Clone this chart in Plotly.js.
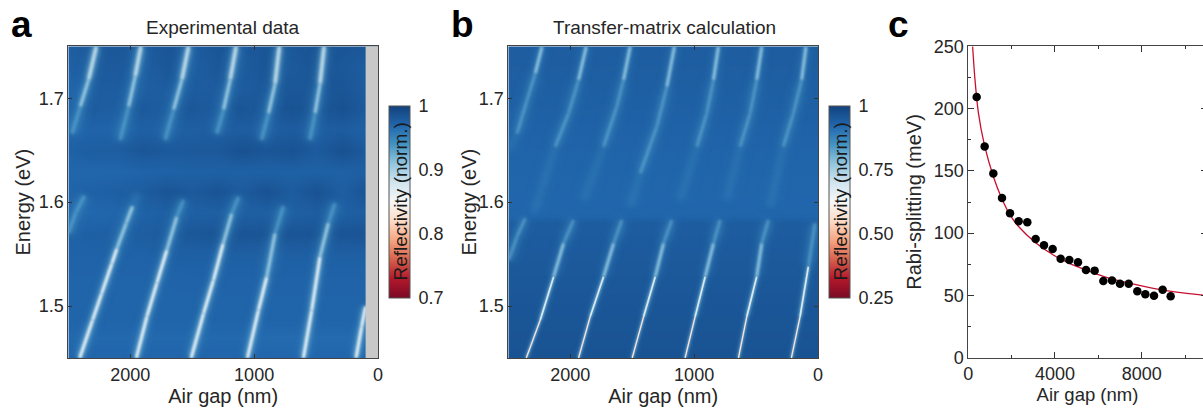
<!DOCTYPE html>
<html><head><meta charset="utf-8">
<script src="https://cdn.plot.ly/plotly-3.0.1.min.js"></script>
<style>html,body{margin:0;padding:0;background:#fff;overflow:hidden;width:1203px;height:408px}#g{width:1215px;height:408px}</style>
</head><body><div id="g"></div>
<script>
// ---------- Panel a: background ----------
const gridGapA = [2500,2300,2100,1900,1700,1500,1300,1100,900,700,500,300,100];
const gridEnergyA = [1.45,1.47,1.49,1.51,1.53,1.55,1.57,1.59,1.61,1.63,1.65,1.67,1.69,1.71,1.73,1.75];
const reflA = [
[.971,.971,.971,.971,.971,.971,.971,.971,.970,.970,.970,.970,.970],
[.968,.968,.968,.968,.968,.968,.968,.968,.967,.967,.967,.967,.967],
[.972,.972,.972,.972,.972,.972,.972,.972,.972,.972,.972,.972,.972],
[.972,.972,.972,.972,.972,.972,.972,.972,.972,.972,.972,.972,.972],
[.972,.972,.972,.972,.972,.973,.973,.973,.973,.973,.973,.973,.973],
[.973,.973,.973,.973,.975,.975,.975,.975,.975,.975,.975,.975,.975],
[.973,.975,.975,.977,.979,.982,.984,.984,.984,.984,.984,.984,.985],
[.970,.969,.971,.973,.975,.975,.975,.975,.975,.975,.977,.975,.977],
[.972,.974,.976,.978,.984,.980,.985,.979,.986,.978,.986,.976,.985],
[.970,.970,.970,.972,.973,.974,.974,.974,.974,.974,.974,.974,.976],
[.974,.977,.977,.983,.980,.981,.981,.987,.983,.986,.979,.987,.980],
[.970,.972,.971,.975,.974,.976,.976,.977,.976,.978,.976,.978,.974],
[.972,.978,.976,.980,.977,.982,.978,.984,.979,.986,.981,.987,.980],
[.970,.978,.978,.976,.978,.978,.979,.978,.982,.982,.982,.984,.978],
[.974,.980,.980,.976,.982,.976,.982,.978,.984,.980,.984,.982,.978],
[.976,.982,.982,.978,.984,.978,.984,.980,.984,.982,.986,.984,.982]
];
// ---------- Panel a: bright ridges (gap nm, energy eV, brightness level per segment) ----------
const aLowerGap = [
[2408,2304,2231,2148,2107,2032,1981,1938],
[1951,1865,1785,1704,1624,1570],
[1508,1408,1328,1250,1180,1126],
[1054,965,898,831,763],
[602,535,468,400,347],
[177,132,100],
[2500,2440,2370]
];
const aLowerEnergy = [
[1.45,1.4865,1.512,1.541,1.5555,1.58,1.596,1.6085],
[1.45,1.49,1.522,1.554,1.586,1.602],
[1.45,1.493,1.525,1.56,1.589,1.605],
[1.45,1.496,1.528,1.57,1.596],
[1.45,1.496,1.5475,1.58,1.599],
[1.45,1.4802,1.4995],
[1.57,1.59,1.606]
];
const aLowerLevel = [
[3,3,3,3,2,2,0],
[3,3,3,2,1],
[3,3,3,2,1],
[3,3,2,1],
[3,3,2,1],
[3,3],
[1,1]
];
const aUpperGap = [
[2274,2336,2403,2470],
[1914,1960,2013,2081],
[1529,1583,1650,1718],
[1145,1193,1247,1301],
[796,831,884,940],
[435,468,508,550]
];
const aUpperEnergy = [
[1.75,1.718,1.692,1.666],
[1.75,1.721,1.692,1.66],
[1.75,1.718,1.689,1.66],
[1.75,1.718,1.689,1.666],
[1.75,1.714,1.6855,1.66],
[1.75,1.714,1.6855,1.66]
];
const aUpperLevel = [
[4,2,1],[4,2,1],[4,2,1],[4,2,1],[4,2,1],[4,2,1]
];
// ---------- Panel b: background ----------
const gridGapB = [2500,1250,0];
const gridEnergyB = [1.45,1.50,1.55,1.58,1.586,1.60,1.65,1.70,1.75];
const reflB = [
[.965,.965,.965],
[.958,.958,.958],
[.950,.950,.950],
[.945,.945,.945],
[.928,.928,.928],
[.925,.925,.925],
[.930,.930,.930],
[.938,.938,.938],
[.945,.945,.945]
];
// ---------- Panel b: ridges ----------
const bLowerGap = [
[2497,2430,2363],
[2355,2242,2134,2054,1973],
[1933,1839,1731,1650,1583],
[1500,1408,1314,1247,1180],
[1073,992,911,844,790],
[642,575,495,454,400],
[215,145,78,24]
];
const bLowerEnergy = [
[1.5443,1.5668,1.5844],
[1.45,1.4865,1.5282,1.5603,1.5828],
[1.45,1.4897,1.5282,1.5603,1.5828],
[1.45,1.4897,1.5282,1.5603,1.5828],
[1.45,1.4897,1.5282,1.5603,1.5828],
[1.45,1.4897,1.5282,1.5603,1.5828],
[1.45,1.4897,1.5379,1.5796]
];
const bLowerLevel = [
[1,1],[4,3,2,1],[4,3,2,1],[4,3,2,1],[4,3,2,1],[4,3,2,1],[4,3,1]
];
const bUpperGap = [
[2228,2282,2349,2430,2497],
[1871,1933,2013,2121,2242,2296],
[1516,1570,1624,1731,1892],
[1159,1220,1301,1435,1516],
[804,844,898,978,1113],
[454,495,548,629,737],
[97,132,199,280,387]
];
const bUpperEnergy = [
[1.7497,1.724,1.698,1.666,1.65],
[1.7497,1.7176,1.6855,1.6534,1.6085,1.589],
[1.7497,1.7176,1.692,1.6534,1.602],
[1.7497,1.7112,1.6727,1.6278,1.5957],
[1.7497,1.7176,1.6855,1.6534,1.602],
[1.7497,1.7176,1.6855,1.6534,1.602],
[1.7497,1.7176,1.6855,1.6534,1.5957]
];
const bUpperLevel = [
[2,1,1,0],[2,1,1,0,0],[2,1,1,0],[2,1,1,0],[2,1,1,0],[2,1,1,0],[2,1,1,0]
];
// ---------- Panel c ----------
const dotGap = [386,755,1155,1555,1924,2323,2723,3107,3492,3892,4261,4661,5061,5430,5830,6230,6630,6999,7399,7799,8168,8568,8968,9337];
const dotRabi = [209.3,169.5,147.8,128.2,115.9,109.5,108.7,95.3,90.2,87.3,79.5,78.5,76.6,70.4,69.9,61.6,61.9,59.4,59.4,53.3,50.9,49.8,54.6,49.3];
const fitGap = [200,309,463,740,1155,1540,1924,2308,3091,3922,4692,5430,6229,7382,8536,9615,10830];
const fitRabi = [249.8,223,197,171,145.5,128,114.6,105.5,92.5,82.5,75.5,70.4,65.3,60,55.7,52.7,50.3];

const RdBu = [[0,'#7a0a25'],[.1,'#b2182b'],[.2,'#d6604d'],[.3,'#f4a582'],[.4,'#fddbc7'],[.5,'#f7f7f7'],[.6,'#d1e5f0'],[.7,'#92c5de'],[.8,'#4393c3'],[.9,'#2166ac'],[1,'#12427d']];
const W = 1215, H = 408;
const fx = p => p / W, fy = p => (H - p) / H;
const FONT = 'Liberation Sans, Arial, sans-serif', INK = '#262626', FS = 18, TS = 20;

const layersA = {
  0:[[14,'rgba(67,147,195,.16)'],[7,'rgba(67,147,195,.24)']],
  1:[[14,'rgba(67,147,195,.28)'],[7,'rgba(67,147,195,.5)'],[3.5,'rgba(100,170,212,.45)']],
  2:[[13,'rgba(67,147,195,.35)'],[6.5,'rgba(90,163,207,.6)'],[3.2,'rgba(175,215,232,.75)']],
  3:[[11,'rgba(67,147,195,.4)'],[5.5,'rgba(146,197,222,.65)'],[2.8,'rgba(232,243,248,1)']],
  4:[[12,'rgba(67,147,195,.4)'],[6.5,'rgba(146,197,222,.6)'],[3.5,'rgba(205,230,240,.8)']]
};
const layersB = {
  0:[[14,'rgba(67,147,195,.12)'],[7,'rgba(67,147,195,.2)']],
  1:[[13,'rgba(67,147,195,.24)'],[7,'rgba(67,147,195,.42)'],[3,'rgba(110,175,215,.5)']],
  2:[[10,'rgba(67,147,195,.3)'],[5,'rgba(90,163,207,.55)'],[2.4,'rgba(170,212,232,.8)']],
  3:[[7,'rgba(67,147,195,.35)'],[3.5,'rgba(146,197,222,.65)'],[1.7,'rgba(222,238,246,.95)']],
  4:[[5.5,'rgba(67,147,195,.3)'],[2.8,'rgba(146,197,222,.6)'],[1.3,'rgba(248,228,220,1)']]
};
function ridges(gaps, energies, levels, layers, xa, ya){
  const out = [];
  [0,1,2].forEach(k => {
    gaps.forEach((g,i) => {
      for(let s=0; s<g.length-1; s++){
        const l = layers[levels[i][s]];
        if(!l[k]) continue;
        out.push({type:'scatter',mode:'lines',x:[g[s],g[s+1]],y:[energies[i][s],energies[i][s+1]],xaxis:xa,yaxis:ya,
          line:{width:l[k][0],color:l[k][1]},hoverinfo:'skip',showlegend:false});
      }
    });
  });
  return out;
}
function cbar(x, vals, txt){
  return {x:fx(x),xref:'paper',xanchor:'left',xpad:0,y:fy(298),yref:'paper',yanchor:'bottom',ypad:0,
    thickness:21,thicknessmode:'pixels',len:192,lenmode:'pixels',outlinecolor:'#555',outlinewidth:1,
    tickvals:vals,ticktext:txt,ticks:'outside',ticklen:5,tickcolor:'rgba(0,0,0,0)',tickfont:{family:FONT,size:FS,color:INK}};
}
const traces = [
 {type:'heatmap',x:gridGapA,y:gridEnergyA,z:reflA,zmin:.7,zmax:1,colorscale:RdBu,zsmooth:'best',xaxis:'x',yaxis:'y',hoverinfo:'skip',
  colorbar:cbar(389,[.7,.8,.9,1],['0.7','0.8','0.9','1'])},
 ...ridges(aLowerGap,aLowerEnergy,aLowerLevel,layersA,'x','y'),
 ...ridges(aUpperGap,aUpperEnergy,aUpperLevel,layersA,'x','y'),
 {type:'heatmap',x:gridGapB,y:gridEnergyB,z:reflB,zmin:.25,zmax:1,colorscale:RdBu,zsmooth:'best',xaxis:'x2',yaxis:'y2',hoverinfo:'skip',
  colorbar:cbar(829,[.25,.5,.75,1],['0.25','0.50','0.75','1'])},
 ...ridges(bLowerGap,bLowerEnergy,bLowerLevel,layersB,'x2','y2'),
 ...ridges(bUpperGap,bUpperEnergy,bUpperLevel,layersB,'x2','y2'),
 {type:'scatter',mode:'lines',x:fitGap,y:fitRabi,xaxis:'x3',yaxis:'y3',line:{color:'#c8102e',width:1.3,shape:'spline',smoothing:.8},hoverinfo:'skip',showlegend:false},
 {type:'scatter',mode:'markers',x:dotGap,y:dotRabi,xaxis:'x3',yaxis:'y3',marker:{color:'#000',size:8.5},hoverinfo:'skip',showlegend:false}
];
const axBase = {showgrid:false,zeroline:false,showline:true,linecolor:'#444',linewidth:1,mirror:'ticks',ticks:'inside',ticklen:4,tickwidth:1,tickcolor:'#333',
  tickfont:{family:FONT,size:FS,color:INK}};
const xHeat = d => Object.assign({},axBase,{domain:d,range:[2500,0],tickvals:[2000,1000,0],ticktext:['2000','1000','0'],
  title:{text:'Air gap (nm)',font:{family:FONT,size:TS,color:INK},standoff:5}});
const yHeat = (t) => Object.assign({},axBase,{domain:[fy(358),fy(46.3)],range:[1.45,1.75],tickvals:[1.5,1.6,1.7],ticktext:['1.5','1.6','1.7'],
  title:{text:t,font:{family:FONT,size:TS,color:INK},standoff:2}});
const layout = {
  width:W,height:H,margin:{l:0,r:0,t:0,b:0},paper_bgcolor:'#fff',plot_bgcolor:'#fff',showlegend:false,
  font:{family:FONT,size:FS,color:INK},
  xaxis:xHeat([fx(68.3),fx(378)]),
  yaxis:Object.assign(yHeat('Energy (eV)'),{anchor:'x'}),
  xaxis2:Object.assign(xHeat([fx(508.3),fx(818)]),{anchor:'y2'}),
  yaxis2:Object.assign(yHeat(''),{anchor:'x2'}),
  xaxis3:Object.assign({},axBase,{anchor:'y3',domain:[fx(968.3),fx(1206.7)],range:[0,11000],tickvals:[0,4000,8000],ticktext:['0','4000','8000'],ticklen:6,
     minor:{tickvals:[2000,6000,10000],ticks:'inside',ticklen:3,tickwidth:1,tickcolor:'#333'},
     title:{text:'Air gap (nm)',font:{family:FONT,size:18.5,color:INK},standoff:0}}),
  yaxis3:Object.assign({},axBase,{anchor:'x3',domain:[fy(357.7),fy(46.3)],range:[0,250],dtick:50,ticklen:6,
     minor:{dtick:25,ticks:'inside',ticklen:3,tickwidth:1,tickcolor:'#333'},
     title:{text:'Rabi-splitting (meV)',font:{family:FONT,size:TS,color:INK},standoff:6}}),
  shapes:[{type:'rect',xref:'x',yref:'y',x0:100,x1:0,y0:1.45,y1:1.75,fillcolor:'#c8c8c8',line:{width:0},layer:'above'}],
  annotations:[
    {text:'<b>a</b>',xref:'paper',yref:'paper',x:fx(9),y:fy(38),xanchor:'left',yanchor:'bottom',showarrow:false,font:{family:FONT,size:37,color:'#000'},yshift:-9},
    {text:'<b>b</b>',xref:'paper',yref:'paper',x:fx(449),y:fy(38),xanchor:'left',yanchor:'bottom',showarrow:false,font:{family:FONT,size:37,color:'#000'},yshift:-9},
    {text:'<b>c</b>',xref:'paper',yref:'paper',x:fx(886),y:fy(38),xanchor:'left',yanchor:'bottom',showarrow:false,font:{family:FONT,size:37,color:'#000'},yshift:-9},
    {text:'Experimental data',xref:'paper',yref:'paper',x:fx(223),y:fy(28),xanchor:'center',yanchor:'middle',showarrow:false,font:{family:FONT,size:19,color:INK}},
    {text:'Transfer-matrix calculation',xref:'paper',yref:'paper',x:fx(664),y:fy(28),xanchor:'center',yanchor:'middle',showarrow:false,font:{family:FONT,size:19,color:INK}},
    {text:'Energy (eV)',xref:'paper',yref:'paper',x:fx(468.5),y:fy(202),xanchor:'center',yanchor:'middle',textangle:-90,showarrow:false,font:{family:FONT,size:TS,color:INK}},
    {text:'Reflectivity (norm.)',xref:'paper',yref:'paper',x:fx(399.5),y:fy(202),xanchor:'center',yanchor:'middle',textangle:-90,showarrow:false,font:{family:FONT,size:19,color:'#1a1a1a'}},
    {text:'Reflectivity (norm.)',xref:'paper',yref:'paper',x:fx(839.5),y:fy(202),xanchor:'center',yanchor:'middle',textangle:-90,showarrow:false,font:{family:FONT,size:19,color:'#1a1a1a'}}
  ]
};
Plotly.newPlot('g',traces,layout,{staticPlot:true,displayModeBar:false}).then(() => {
  // Soften the ridge strokes so they read as glowing bands, the widest the most.
  document.querySelectorAll('.subplot.xy .scatterlayer path.js-line, .subplot.x2y2 .scatterlayer path.js-line').forEach(p => {
    const w = parseFloat(p.style.strokeWidth);
    p.style.filter = 'blur(' + (w * 0.36).toFixed(2) + 'px)';
  });
});
</script></body></html>
